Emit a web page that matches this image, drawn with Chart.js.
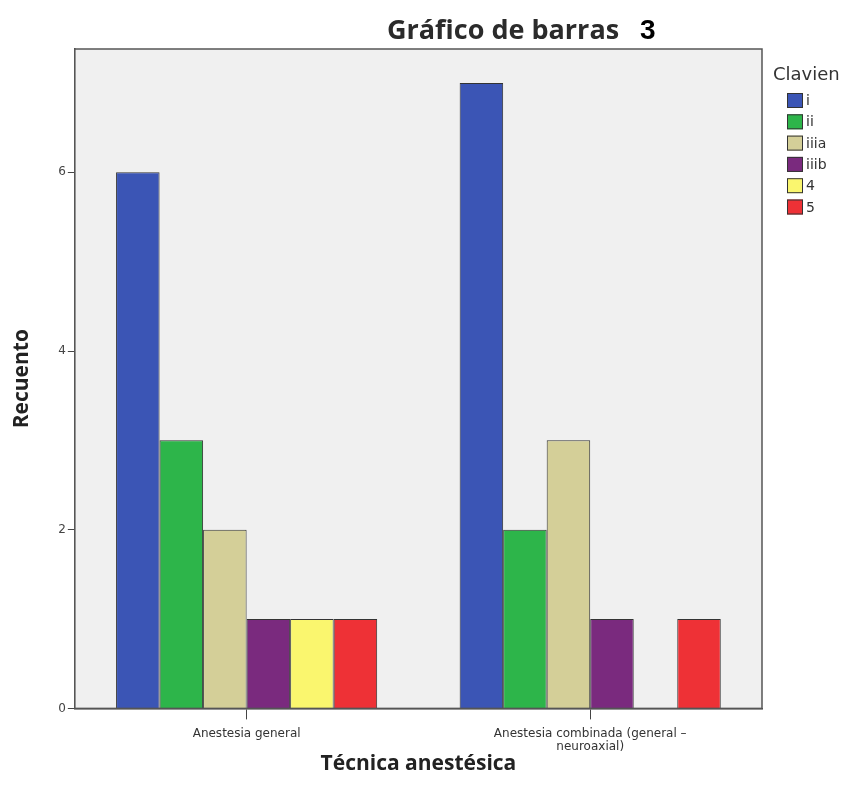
<!DOCTYPE html>
<html>
<head>
<meta charset="utf-8">
<script src="https://cdn.jsdelivr.net/npm/chart.js@4/dist/chart.umd.min.js"></script>
<style>
  html, body { margin: 0; padding: 0; background: #ffffff; }
  #wrap { width: 855px; height: 801px; position: relative; }
</style>
</head>
<body>
<div id="wrap"><canvas id="c" width="855" height="801"></canvas></div>
<script>
// Anaesthetic technique groups (x axis)
const categories = [
  'Anestesia general',
  ['Anestesia combinada (general –', 'neuroaxial)']
];
// Clavien grades (legend)
const grades = ['i', 'ii', 'iiia', 'iiib', '4', '5'];
// Counts per grade, one value per technique
const countI    = [6, 7];
const countII   = [3, 2];
const countIIIa = [2, 3];
const countIIIb = [1, 1];
const count4    = [1, 0];
const count5    = [1, 1];
const yTicks = [0, 2, 4, 6];

const seriesValues = [countI, countII, countIIIa, countIIIb, count4, count5];
const colors = ['#3B55B5', '#2DB54A', '#D4CF98', '#7A2A7E', '#FAF66E', '#EE3136'];

const datasets = grades.map((g, i) => ({
  label: g,
  data: seriesValues[i],
  backgroundColor: colors[i],
  borderColor: '#333',
  borderWidth: ctx => (ctx.raw === 0 ? 0 : 1),
  borderSkipped: 'bottom'
}));

// Grey plotting panel with a dark frame
const panel = {
  id: 'panel',
  beforeDatasetsDraw(chart) {
    const { ctx, chartArea: a } = chart;
    ctx.save();
    ctx.fillStyle = '#F0F0F0';
    ctx.fillRect(a.left, a.top, a.right - a.left, a.bottom - a.top);
    ctx.restore();
  },
  afterDatasetsDraw(chart) {
    const { ctx, chartArea: a } = chart;
    ctx.save();
    ctx.strokeStyle = '#555';
    ctx.lineWidth = 1.5;
    ctx.strokeRect(a.left, a.top, a.right - a.left, a.bottom - a.top);
    ctx.restore();
  }
};

// Heading: "Gráfico de barras" plus the figure number
const heading = {
  id: 'heading',
  afterDraw(chart) {
    const { ctx } = chart;
    ctx.save();
    ctx.textBaseline = 'alphabetic';
    ctx.textAlign = 'left';
    ctx.fillStyle = '#2b2b2b';
    ctx.font = 'bold 27px "Open Sans", sans-serif';
    ctx.fillText('Gráfico de barras', 387, 39);
    ctx.fillStyle = '#000';
    ctx.font = 'bold 28px "Liberation Sans", Arial, sans-serif';
    ctx.fillText('3', 640, 39);
    ctx.restore();
  }
};

// Legend to the right of the panel, built from the datasets
const sideLegend = {
  id: 'sideLegend',
  afterDraw(chart) {
    const { ctx, chartArea: a } = chart;
    const x0 = a.right + 11;
    ctx.save();
    ctx.fillStyle = '#333';
    ctx.textAlign = 'left';
    ctx.textBaseline = 'alphabetic';
    ctx.font = '18px "DejaVu Sans", sans-serif';
    ctx.fillText('Clavien', x0, 80);
    ctx.font = '14px "DejaVu Sans", sans-serif';
    ctx.textBaseline = 'middle';
    chart.data.datasets.forEach((ds, i) => {
      const cy = 100.5 + i * 21.3;
      ctx.fillStyle = ds.backgroundColor;
      ctx.fillRect(x0 + 14, cy - 7.5, 16, 15);
      ctx.strokeStyle = '#333';
      ctx.lineWidth = 1;
      ctx.strokeRect(x0 + 14.5, cy - 7, 15, 14);
      ctx.fillStyle = '#333';
      ctx.fillText(ds.label, x0 + 33, cy + 1);
    });
    ctx.restore();
  }
};

new Chart(document.getElementById('c'), {
  type: 'bar',
  data: { labels: categories, datasets },
  options: {
    responsive: false,
    animation: false,
    layout: { padding: { top: 49, left: 9, right: 93, bottom: 24 } },
    datasets: { bar: { barPercentage: 1.0, categoryPercentage: 0.76 } },
    scales: {
      x: {
        grid: { display: true, offset: false, drawOnChartArea: false, drawTicks: true, tickLength: 11, color: '#444' },
        border: { display: true, color: '#444', width: 1.5 },
        ticks: { color: '#333', font: { family: '"DejaVu Sans", sans-serif', size: 12, lineHeight: 1.1 }, padding: 8, maxRotation: 0, autoSkip: false },
        title: { display: true, text: 'Técnica anestésica', color: '#222', font: { family: '"Open Sans", sans-serif', size: 21, weight: 'bold' }, padding: { top: -10, bottom: 0 } }
      },
      y: {
        min: 0,
        max: 7.38,
        afterBuildTicks(axis) { axis.ticks = yTicks.map(v => ({ value: v })); },
        grid: { display: true, drawOnChartArea: false, drawTicks: true, tickLength: 7, color: '#444' },
        border: { display: true, color: '#444', width: 1.5 },
        ticks: { color: '#444', font: { family: '"DejaVu Sans", sans-serif', size: 12 }, padding: 2 },
        title: { display: true, text: 'Recuento', color: '#222', font: { family: '"Open Sans", sans-serif', size: 21, weight: 'bold' }, padding: { top: 0, bottom: 22 } }
      }
    },
    plugins: {
      title: { display: false },
      tooltip: { enabled: false },
      legend: { display: false }
    }
  },
  plugins: [panel, heading, sideLegend]
});
</script>
</body>
</html>
